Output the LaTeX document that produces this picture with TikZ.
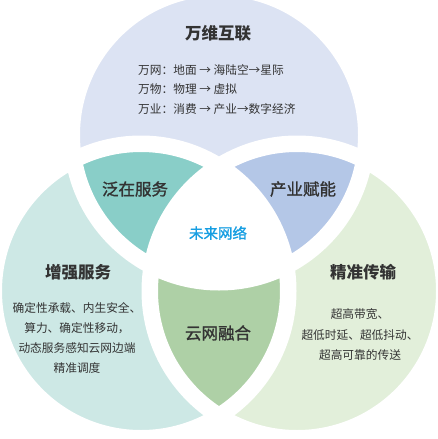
\documentclass[tikz,border=0pt]{standalone}
\usepackage{fontspec}
\newfontfamily\cjk{Noto Sans CJK SC}
\newfontfamily\cjkm[FakeBold=1.3]{Noto Sans CJK SC}
\definecolor{lav}{RGB}{220,227,243}
\definecolor{lteal}{RGB}{205,232,229}
\definecolor{lgreen}{RGB}{226,239,218}
\definecolor{dteal}{RGB}{137,206,200}
\definecolor{dblue}{RGB}{180,199,231}
\definecolor{dgreen}{RGB}{174,208,166}
\definecolor{txt}{RGB}{51,51,51}
\definecolor{ctr}{RGB}{22,158,226}
\begin{document}
\begin{tikzpicture}[x=1pt,y=-1pt,
  title/.style={text=txt,inner sep=0pt,font=\cjk\bfseries\fontsize{16.5}{20}\selectfont},
  lens/.style={text=txt,inner sep=0pt,font=\cjkm\fontsize{16.5}{20}\selectfont},
  body/.style={text=txt,inner sep=0pt,font=\cjk\fontsize{11.7}{20}\selectfont},
  gap/.style={draw=white,line width=16.5pt}]
\useasboundingbox (0,0) rectangle (438,439);
\coordinate (T) at (219,135);
\coordinate (L) at (141,291);
\coordinate (R) at (297,291);
% base circles
\fill[lav] (T) circle (140pt);
\fill[lteal] (L) circle (140pt);
\fill[lgreen] (R) circle (140pt);
% lenses
\begin{scope}\clip (T) circle (140pt); \fill[dteal] (L) circle (140pt); \end{scope}
\begin{scope}\clip (T) circle (140pt); \fill[dblue] (R) circle (140pt); \end{scope}
\begin{scope}\clip (L) circle (140pt); \fill[dgreen] (R) circle (140pt); \end{scope}
% triple intersection
\begin{scope}\clip (T) circle (141pt); \clip (L) circle (141pt); \fill[white] (R) circle (141pt); \end{scope}
% white gaps
\draw[gap] (T) circle (147.25pt);
\draw[gap] (L) circle (147.25pt);
\draw[gap] (R) circle (147.25pt);
% texts
\node[title] (t1) at (218,33) {万维互联};
\node[body,align=left,anchor=west,font=\cjk\fontsize{11.7}{19.5}\selectfont] (t1b) at (138,89.5)
  {万网：地面 → 海陆空→星际\\万物：物理 → 虚拟\\万业：消费 → 产业→数字经济};
\node[lens] (l1) at (135,189) {泛在服务};
\node[lens] (l2) at (303,189) {产业赋能};
\node[text=ctr,inner sep=0pt,font=\cjkm\fontsize{14.5}{16}\selectfont] (c) at (218,233) {未来网络};
\node[title] (t2) at (78,272) {增强服务};
\node[body,align=center] (t2b) at (77,338)
  {确定性承载、内生安全、\\算力、确定性移动，\\动态服务感知云网边端\\精准调度};
\node[title] (t3) at (363,272) {精准传输};
\node[body,align=center,font=\cjk\fontsize{11.7}{20.5}\selectfont] (t3b) at (360,334.5)
  {超高带宽、\\超低时延、超低抖动、\\超高可靠的传送};
\node[lens] (l3) at (218,333) {云网融合};
\end{tikzpicture}
\end{document}
